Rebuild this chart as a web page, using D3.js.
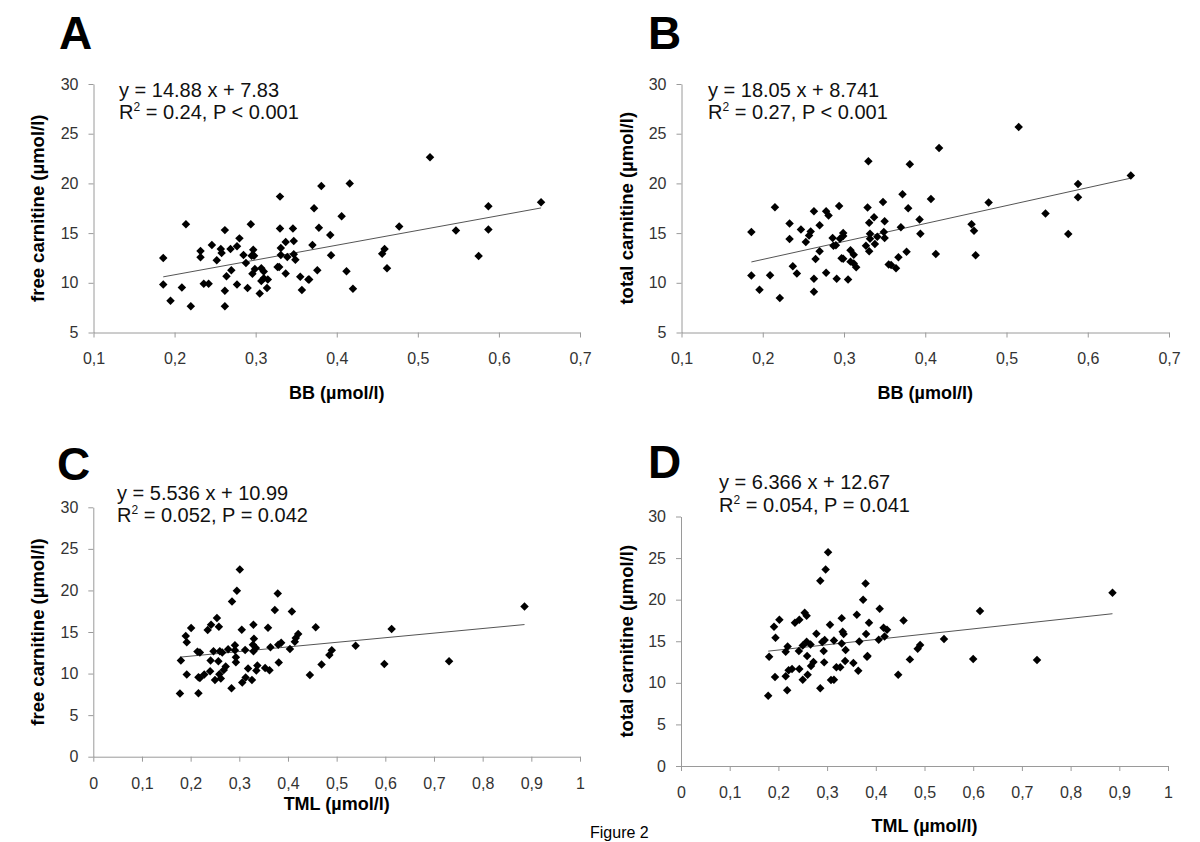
<!DOCTYPE html>
<html>
<head>
<meta charset="utf-8">
<script src="https://cdn.jsdelivr.net/npm/d3@7"></script>
<style>
  html, body { margin: 0; padding: 0; background: #fff; }
  svg { display: block; font-family: "Liberation Sans", Arial, sans-serif; }
</style>
</head>
<body>
<script>
// ---------------- DATA ----------------
// Panel A: BB vs free carnitine
const aBB = [0.186,0.186,0.195,0.209,0.214,0.220,0.232,0.232,0.236,0.242,0.246,0.252,0.257,0.258,0.262,0.262,0.262,0.264,0.269,0.270,0.277,0.277,0.280,0.285,0.288,0.290,0.294,0.295,0.296,0.297,0.298,0.299,0.305,0.307,0.307,0.310,0.310,0.314,0.315,0.327,0.329,0.330,0.330,0.331,0.331,0.337,0.337,0.339,0.346,0.347,0.347,0.349,0.355,0.357,0.365,0.366,0.370,0.372,0.376,0.378,0.381,0.392,0.393,0.406,0.412,0.416,0.420,0.456,0.459,0.462,0.477,0.515,0.547,0.575,0.587,0.587,0.652];
const aFree = [12.5,9.83,8.2,9.53,15.9,7.63,13.2,12.57,9.9,9.9,13.8,12.27,13.4,13.0,15.3,9.2,7.63,10.67,13.4,11.27,13.67,9.83,14.47,12.8,12.0,9.47,15.9,12.73,10.9,13.33,12.73,11.4,8.93,11.47,10.17,11.13,10.47,9.47,10.33,11.6,11.6,18.67,15.47,13.5,12.8,14.1,10.93,12.6,15.47,14.2,12.87,12.33,10.6,9.27,10.33,10.33,13.8,17.5,11.27,15.53,19.73,14.8,12.77,16.7,11.17,20.0,9.4,12.93,13.4,11.47,15.67,22.63,15.27,12.7,17.7,15.37,18.1];

// Panel B: BB vs total carnitine
const bBB = [0.186,0.186,0.196,0.209,0.215,0.221,0.233,0.233,0.237,0.242,0.247,0.253,0.257,0.259,0.263,0.263,0.263,0.265,0.270,0.270,0.278,0.278,0.281,0.286,0.287,0.290,0.291,0.294,0.295,0.297,0.299,0.299,0.299,0.305,0.308,0.308,0.312,0.312,0.315,0.327,0.329,0.330,0.331,0.331,0.332,0.332,0.337,0.338,0.341,0.348,0.349,0.350,0.350,0.355,0.358,0.364,0.367,0.370,0.372,0.377,0.379,0.381,0.393,0.394,0.407,0.413,0.417,0.457,0.460,0.462,0.478,0.515,0.548,0.576,0.588,0.588,0.653];
const bTotal = [15.1,10.73,9.3,10.77,17.6,8.47,15.97,14.4,11.67,10.93,15.37,14.1,14.77,15.17,17.2,10.4,9.1,12.4,15.8,13.17,17.2,11.0,16.77,14.5,13.73,13.77,10.4,17.73,14.43,12.47,15.0,14.7,12.43,10.33,13.27,12.13,11.93,12.83,11.57,13.73,17.57,22.23,16.03,13.17,14.93,14.43,16.6,13.9,14.63,18.13,15.1,16.2,14.5,11.83,11.8,11.47,12.57,15.6,18.9,13.13,17.5,21.93,16.37,14.93,18.43,12.9,23.57,15.9,15.23,12.77,18.07,25.67,16.97,14.9,19.93,18.6,20.8];

// Panel C: TML vs free carnitine
const cTML = [0.178,0.180,0.190,0.192,0.192,0.201,0.214,0.216,0.216,0.219,0.219,0.228,0.235,0.240,0.241,0.242,0.247,0.250,0.254,0.257,0.258,0.259,0.260,0.262,0.265,0.268,0.272,0.277,0.284,0.285,0.291,0.291,0.293,0.293,0.295,0.301,0.305,0.306,0.312,0.313,0.318,0.326,0.328,0.329,0.329,0.330,0.334,0.335,0.337,0.353,0.359,0.362,0.364,0.373,0.379,0.380,0.381,0.386,0.404,0.408,0.414,0.416,0.421,0.445,0.457,0.469,0.485,0.490,0.539,0.598,0.613,0.731,0.886];
const cFree = [7.6,11.56,14.52,13.76,9.88,15.48,12.64,7.64,9.56,12.52,9.48,9.88,15.24,10.28,11.56,15.88,12.68,9.24,16.68,11.48,15.64,9.92,12.68,9.4,12.52,10.44,10.84,12.92,8.24,18.68,13.4,12.8,11.96,11.36,19.96,22.52,15.28,8.92,12.84,9.52,10.6,9.24,13.48,15.88,12.68,14.2,13.08,10.36,10.96,10.68,15.52,10.4,13.16,17.64,19.64,13.48,11.32,13.72,12.96,17.48,13.84,14.28,14.76,9.84,15.56,11.08,12.24,12.8,13.36,11.16,15.36,11.48,18.08];

// Panel D: TML vs total carnitine
const dTML = [0.179,0.181,0.191,0.193,0.194,0.202,0.215,0.215,0.218,0.219,0.221,0.228,0.234,0.242,0.243,0.243,0.250,0.250,0.254,0.258,0.258,0.259,0.260,0.266,0.267,0.272,0.278,0.286,0.286,0.290,0.293,0.294,0.295,0.297,0.302,0.306,0.308,0.314,0.314,0.319,0.327,0.330,0.330,0.332,0.334,0.337,0.338,0.354,0.361,0.364,0.366,0.374,0.379,0.380,0.382,0.383,0.386,0.406,0.408,0.416,0.418,0.423,0.446,0.457,0.470,0.486,0.491,0.540,0.600,0.614,0.731,0.886];
const dTotal = [8.45,13.14,16.74,10.7,15.42,17.58,10.78,13.74,9.1,14.38,11.5,11.66,17.22,13.82,17.58,11.66,14.5,10.38,18.43,18.07,14.94,13.22,10.98,14.62,12.02,12.5,15.9,9.34,22.27,14.9,13.82,12.46,15.14,23.63,25.71,16.98,10.34,10.38,15.1,11.86,11.86,14.74,17.78,16.14,15.86,12.62,13.94,12.38,18.19,11.46,14.98,19.99,21.95,15.86,13.14,13.22,17.22,15.18,18.91,16.62,15.58,16.38,10.98,17.5,12.82,14.1,14.54,15.26,12.86,18.63,12.74,20.83];

// Regression equations shown on each panel
const panelLetters = ["A", "B", "C", "D"];
const slopes = [14.88, 18.05, 5.536, 6.366];
const intercepts = [7.83, 8.741, 10.99, 12.67];
const eqLines = ["y = 14.88 x + 7.83", "y = 18.05 x + 8.741", "y = 5.536 x + 10.99", "y = 6.366 x + 12.67"];
const statLines = [" = 0.24, P < 0.001", " = 0.27, P < 0.001", " = 0.052, P = 0.042", " = 0.054, P = 0.041"];

// Axis labels and ticks
const xTitles = ["BB (µmol/l)", "BB (µmol/l)", "TML (µmol/l)", "TML (µmol/l)"];
const yTitles = ["free carnitine (µmol/l)", "total carnitine (µmol/l)", "free carnitine (µmol/l)", "total carnitine (µmol/l)"];
const xTicksBB = [0.1, 0.2, 0.3, 0.4, 0.5, 0.6, 0.7];
const xTicksTML = [0, 0.1, 0.2, 0.3, 0.4, 0.5, 0.6, 0.7, 0.8, 0.9, 1];
const yTicksTop = [5, 10, 15, 20, 25, 30];
const yTicksBottom = [0, 5, 10, 15, 20, 25, 30];
const figureCaption = "Figure 2";

// ---------------- LAYOUT ----------------
const panels = [
  { xs: aBB, ys: aFree, xDom: [0.1, 0.7], yDom: [5, 30], xTicks: xTicksBB, yTicks: yTicksTop,
    left: 93.5, right: 580, top: 84, bottom: 332.5, letter: [59, 49], eq: [119, 97, 119], yTitleX: 38, xTitleY: 399 },
  { xs: bBB, ys: bTotal, xDom: [0.1, 0.7], yDom: [5, 30], xTicks: xTicksBB, yTicks: yTicksTop,
    left: 681.5, right: 1169, top: 84, bottom: 332.5, letter: [648, 49], eq: [708, 97, 119], yTitleX: 627, xTitleY: 399 },
  { xs: cTML, ys: cFree, xDom: [0, 1], yDom: [0, 30], xTicks: xTicksTML, yTicks: yTicksBottom,
    left: 93.3, right: 580, top: 507.3, bottom: 756.7, letter: [57, 480], eq: [117, 500, 522], yTitleX: 38, xTitleY: 810 },
  { xs: dTML, ys: dTotal, xDom: [0, 1], yDom: [0, 30], xTicks: xTicksTML, yTicks: yTicksBottom,
    left: 681, right: 1168, top: 516.5, bottom: 766, letter: [648, 478], eq: [719, 489, 512], yTitleX: 627, xTitleY: 832 }
];

const svg = d3.select("body").append("svg").attr("width", 1200).attr("height", 842);
svg.append("rect").attr("width", 1200).attr("height", 842).attr("fill", "#fff");

const fmt = v => (v === 0 || v === 1) ? String(v) : String(v).replace(".", ",");
const diamond = d3.symbol().type(d3.symbolSquare).size(36);

panels.forEach((p, i) => {
  const x = d3.scaleLinear().domain(p.xDom).range([p.left, p.right]);
  const y = d3.scaleLinear().domain(p.yDom).range([p.bottom, p.top]);
  const g = svg.append("g");

  const xAxis = g.append("g").attr("transform", `translate(0,${p.bottom})`)
    .call(d3.axisBottom(x).tickValues(p.xTicks).tickFormat(fmt).tickSize(5).tickSizeOuter(0).tickPadding(15.5));
  const yAxis = g.append("g").attr("transform", `translate(${p.left},0)`)
    .call(d3.axisLeft(y).tickValues(p.yTicks).tickFormat(d => d).tickSize(5).tickSizeOuter(0).tickPadding(10));
  [xAxis, yAxis].forEach(ax => {
    ax.select(".domain").attr("stroke", "#9a9a9a").attr("stroke-width", 1);
    ax.selectAll(".tick line").attr("stroke", "#9a9a9a");
    ax.selectAll(".tick text").attr("fill", "#333").style("font-size", "16px")
      .style("font-family", "'Liberation Sans', Arial, sans-serif");
  });

  // trend line from regression equation over the data range
  const xr = d3.extent(p.xs);
  g.append("line")
    .attr("x1", x(xr[0])).attr("y1", y(slopes[i] * xr[0] + intercepts[i]))
    .attr("x2", x(xr[1])).attr("y2", y(slopes[i] * xr[1] + intercepts[i]))
    .attr("stroke", "#555").attr("stroke-width", 1);

  // points
  g.append("g").selectAll("path").data(p.xs.map((v, k) => [v, p.ys[k]])).join("path")
    .attr("d", diamond)
    .attr("transform", d => `translate(${x(d[0])},${y(d[1])}) rotate(45)`)
    .attr("fill", "#000");

  // panel letter
  g.append("text").attr("x", p.letter[0]).attr("y", p.letter[1])
    .attr("font-size", 46).attr("font-weight", "bold").attr("fill", "#000").text(panelLetters[i]);

  // equation text
  g.append("text").attr("x", p.eq[0]).attr("y", p.eq[1]).attr("font-size", 20).attr("fill", "#111")
    .text(eqLines[i]);
  const st = g.append("text").attr("x", p.eq[0]).attr("y", p.eq[2]).attr("font-size", 20).attr("fill", "#111");
  st.append("tspan").text("R");
  st.append("tspan").attr("font-size", 12).attr("dy", -8).text("2");
  st.append("tspan").attr("dy", 8).text(statLines[i]);

  // axis titles
  g.append("text").attr("x", (p.left + p.right) / 2).attr("y", p.xTitleY)
    .attr("text-anchor", "middle").attr("font-size", 18).attr("font-weight", "bold").attr("fill", "#000")
    .text(xTitles[i]);
  g.append("text")
    .attr("transform", `translate(${p.yTitleX},${(p.top + p.bottom) / 2}) rotate(-90)`)
    .attr("text-anchor", "middle").attr("dy", "0.35em")
    .attr("font-size", 18.5).attr("font-weight", "bold").attr("fill", "#000")
    .text(yTitles[i]);
});

svg.append("text").attr("x", 590).attr("y", 838).attr("font-size", 16).attr("fill", "#000").text(figureCaption);
</script>
</body>
</html>
